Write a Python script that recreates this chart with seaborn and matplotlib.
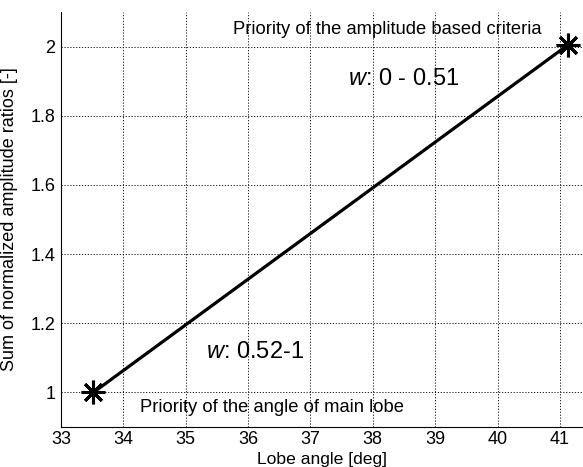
import matplotlib
matplotlib.use("Agg")
import matplotlib.pyplot as plt
import seaborn as sns
import pandas as pd

lobe_angle = [33.52, 41.13]
amp_sum = [1.0, 2.005]
x_ticks = [33, 34, 35, 36, 37, 38, 39, 40, 41]
y_ticks = [1, 1.2, 1.4, 1.6, 1.8, 2]
y_tick_labels = ["1", "1.2", "1.4", "1.6", "1.8", "2"]

sns.set_style("white")
plt.rcParams['font.family'] = ['Liberation Sans', 'DejaVu Sans']
plt.rcParams['text.color'] = 'black'
plt.rcParams['axes.labelcolor'] = 'black'
plt.rcParams['mathtext.fontset'] = 'custom'
plt.rcParams['mathtext.it'] = 'Liberation Sans:italic'
plt.rcParams['mathtext.rm'] = 'Liberation Sans'

fig = plt.figure(figsize=(5.83, 4.67), dpi=100)
ax = fig.add_axes([61/583, 40/467, (583-61)/583, (427-12)/467])

df = pd.DataFrame({"x": lobe_angle, "y": amp_sum})
sns.lineplot(data=df, x="x", y="y", ax=ax, color="black", linewidth=2.3,
             marker=(8, 2, 0), markersize=17, markeredgewidth=2.2,
             markeredgecolor="black", markerfacecolor="black", sort=False)

ax.set_xlim(33, 41.37)
ax.set_ylim(0.9, 2.1)
ax.set_xticks(x_ticks)
ax.set_yticks(y_ticks)
ax.set_yticklabels(y_tick_labels)
ax.grid(True, color="black", linestyle=(0, (1.5, 2)), linewidth=0.6)
ax.set_axisbelow(True)
for s in ["top", "right"]:
    ax.spines[s].set_visible(False)
for s in ["left", "bottom"]:
    ax.spines[s].set_color("black")
    ax.spines[s].set_linewidth(0.8)
ax.tick_params(axis="both", direction="in", length=4, labelsize=13, colors="black", pad=4)
ax.tick_params(axis="x", pad=3)
ax.set_xlabel("Lobe angle [deg]", fontsize=12.6, labelpad=3, color="black")
ax.set_ylabel("Sum of normalized amplitude ratios [-]", fontsize=13, labelpad=9, color="black")

ax.text(35.76, 2.048, "Priority of the amplitude based criteria", fontsize=13.2, va="center", ha="left", color="black")
ax.text(37.6, 1.905, "$w$: 0 - 0.51", fontsize=17, va="center", ha="left", color="black")
ax.text(35.33, 1.118, "$w$: 0.52-1", fontsize=17, va="center", ha="left", color="black")
ax.text(34.27, 0.955, "Priority of the angle of main lobe", fontsize=13.2, va="center", ha="left", color="black")

fig.savefig("out.png", dpi=100)
